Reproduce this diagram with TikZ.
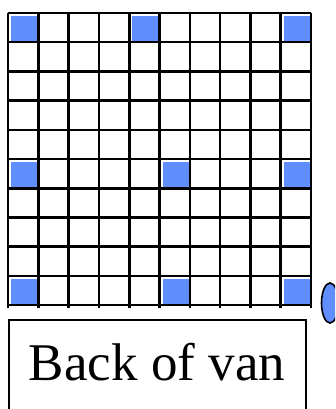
\documentclass[tikz,border=0pt]{standalone}
\usepackage{fontspec}
\setmainfont{Liberation Serif}
\usetikzlibrary{shapes.geometric}
\definecolor{cellblue}{RGB}{97,142,255}
\begin{document}
\begin{tikzpicture}[x=1pt,y=-1pt,
  gridline/.style={line width=2.6pt,black},
  bluecell/.style={fill=cellblue,draw=none},
  labelbox/.style={draw=black,line width=1.8pt}]
\useasboundingbox (0,0) rectangle (335,409);
\begin{scope}
\clip (0,0) rectangle (335,409);
% blue cells
\foreach \c/\r in {0/0,4/0,9/0,0/5,5/5,9/5,0/9,5/9,9/9}{
  \fill[bluecell] ({8+30.3*\c+3},{13+29.2*\r+3}) rectangle ({8+30.3*(\c+1)},{13+29.2*(\r+1)});
}
% grid
\foreach \i in {0,...,10}{
  \draw[gridline] ({8+30.3*\i},13) -- ({8+30.3*\i},308);
  \draw[gridline] (8,{13+29.2*\i}) -- (311,{13+29.2*\i});
}
% ellipse
\node[ellipse,draw=black,fill=cellblue,line width=1.6pt,minimum width=17pt,minimum height=40pt,inner sep=0pt] (wheel) at (330,303) {};
% label box
\draw[labelbox] (9,420) -- (9,320) -- (306,320) -- (306,420);
\node[anchor=base,font=\fontsize{53}{60}\selectfont,inner sep=0pt] (label) at (157,380) {Back of van};
\end{scope}
\end{tikzpicture}
\end{document}
